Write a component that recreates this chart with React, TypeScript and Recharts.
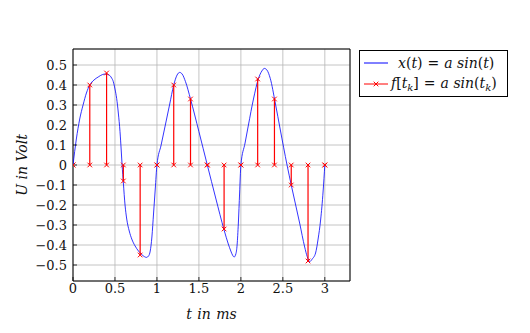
import React from 'react';
import {
  ComposedChart,
  Line,
  Scatter,
  XAxis,
  YAxis,
  CartesianGrid,
  ErrorBar,
  ReferenceArea,
  Label,
} from 'recharts';

// Sample instants t_k and sampled values f[t_k]
const sampleT = [0, 0.2, 0.4, 0.6, 0.8, 1.0, 1.2, 1.4, 1.6, 1.8, 2.0, 2.2, 2.4, 2.6, 2.8, 3.0];
const sampleV = [0, 0.4, 0.46, -0.08, -0.45, 0, 0.4, 0.33, 0, -0.32, 0, 0.43, 0.33, -0.1, -0.48, 0];

// Continuous signal x(t)
const curveT = [
  0, 0.04, 0.08, 0.12, 0.16, 0.2, 0.25, 0.3, 0.35, 0.39, 0.43, 0.46, 0.48, 0.5, 0.52, 0.54, 0.56, 0.575, 0.585,
  0.6, 0.62, 0.64, 0.67, 0.7, 0.74, 0.78, 0.82, 0.85, 0.875, 0.9, 0.92, 0.94, 0.96, 0.98, 1.0,
  1.05, 1.1, 1.15, 1.2, 1.24, 1.27, 1.3, 1.34, 1.4, 1.5, 1.6, 1.7, 1.8, 1.85, 1.88, 1.9, 1.92, 1.94,
  1.955, 1.97, 1.985, 2.0,
  2.05, 2.09, 2.15, 2.21, 2.25, 2.28, 2.31, 2.35, 2.41, 2.47, 2.55, 2.6, 2.7, 2.76, 2.79, 2.82, 2.85,
  2.89, 2.92, 2.95, 2.98, 3.0,
];
const curveV = [
  0, 0.13, 0.23, 0.3, 0.36, 0.4, 0.425, 0.44, 0.452, 0.455, 0.45, 0.435, 0.417, 0.38, 0.333, 0.26, 0.167, 0.07, 0,
  -0.09, -0.2, -0.27, -0.33, -0.37, -0.405, -0.43, -0.448, -0.458, -0.462, -0.455, -0.43, -0.36, -0.24, -0.12, 0,
  0.1, 0.2, 0.3, 0.4, 0.45, 0.463, 0.455, 0.417, 0.33, 0.167, 0, -0.165, -0.325, -0.395, -0.43, -0.45, -0.46, -0.445,
  -0.4, -0.29, -0.14, 0,
  0.11, 0.2, 0.33, 0.433, 0.47, 0.483, 0.475, 0.433, 0.31, 0.175, 0, -0.1, -0.29, -0.41, -0.458, -0.483, -0.47,
  -0.44, -0.37, -0.275, -0.13, 0,
];

const xTicks = [0, 0.5, 1, 1.5, 2, 2.5, 3];
const yTicks = [-0.5, -0.4, -0.3, -0.2, -0.1, 0, 0.1, 0.2, 0.3, 0.4, 0.5];
const xDomain: [number, number] = [0, 3.3];
const yDomain: [number, number] = [-0.58, 0.58];

const curveData = curveT.map((t, i) => ({ t, v: curveV[i] }));
const stemData = sampleT.map((t, i) => {
  const v = sampleV[i];
  return { t, v, err: v >= 0 ? [v, 0] : [0, -v] };
});
const zeroData = sampleT.map((t) => ({ t, z: 0 }));

const FONT = 'DejaVu Serif';

const fmt = (v: number) => {
  const s = String(Math.round(v * 10) / 10);
  return s.startsWith('-') ? '\u2212' + s.slice(1) : s;
};

const Cross = (props: any) => {
  const { cx, cy } = props;
  if (cx == null || cy == null) return null;
  const s = 2.3;
  return (
    <path
      d={`M${cx - s},${cy - s}L${cx + s},${cy + s}M${cx - s},${cy + s}L${cx + s},${cy - s}`}
      stroke="#ff0000"
      strokeWidth={1}
      fill="none"
    />
  );
};

const NoTick = () => null;
const tickStroke = { stroke: '#000', strokeWidth: 0.8 };

const it: React.CSSProperties = { fontStyle: 'italic' };
const eq: React.CSSProperties = { margin: '0 5px' };
const sub: React.CSSProperties = { fontStyle: 'italic', fontSize: 10, verticalAlign: '-3px', letterSpacing: 0 };

export default function App() {
  return (
    <div style={{ position: 'absolute', left: 0, top: 0, width: 530, height: 333, background: '#fff' }}>
      <ComposedChart
        width={530}
        height={333}
        margin={{ top: 49, right: 180, bottom: 12, left: 13 }}
        style={{ fontFamily: FONT }}
      >
        <CartesianGrid stroke="#b5b5b5" strokeWidth={0.8} />
        <XAxis
          dataKey="t"
          type="number"
          domain={xDomain}
          ticks={xTicks}
          interval={0}
          tickFormatter={fmt}
          allowDataOverflow
          axisLine={false}
          tickLine={tickStroke}
          tickSize={-4}
          tickMargin={7}
          height={40}
          tick={{ fill: '#111', fontSize: 13, fontFamily: FONT }}
        >
          <Label
            value="t in ms"
            position="insideBottom"
            offset={2}
            style={{ fontStyle: 'italic', fontSize: 14, fill: '#111', fontFamily: FONT, wordSpacing: '1px' }}
          />
        </XAxis>
        <XAxis
          xAxisId="top"
          orientation="top"
          dataKey="t"
          type="number"
          domain={xDomain}
          ticks={xTicks}
          interval={0}
          allowDataOverflow
          axisLine={false}
          tickLine={tickStroke}
          tickSize={-4}
          height={0}
          tick={NoTick}
        />
        <YAxis
          type="number"
          domain={yDomain}
          ticks={yTicks}
          interval={0}
          tickFormatter={fmt}
          allowDataOverflow
          axisLine={false}
          tickLine={tickStroke}
          tickSize={-4}
          tickMargin={10}
          width={60}
          tick={{ fill: '#111', fontSize: 13, fontFamily: FONT }}
        >
          <Label
            value="U in Volt"
            angle={-90}
            position="insideLeft"
            offset={9}
            style={{ textAnchor: 'middle', fontStyle: 'italic', fontSize: 14, fill: '#111', fontFamily: FONT }}
          />
        </YAxis>
        <YAxis
          yAxisId="right"
          orientation="right"
          type="number"
          domain={yDomain}
          ticks={yTicks}
          interval={0}
          allowDataOverflow
          axisLine={false}
          tickLine={tickStroke}
          tickSize={-4}
          width={0}
          tick={NoTick}
        />
        <Line
          data={curveData}
          dataKey="v"
          type="monotone"
          stroke="#0000ff"
          strokeWidth={0.8}
          dot={false}
          isAnimationActive={false}
        />
        <Scatter data={stemData} dataKey="v" shape={<Cross />} isAnimationActive={false}>
          <ErrorBar dataKey="err" direction="y" width={0} stroke="#ff0000" strokeWidth={1.2} />
        </Scatter>
        <Scatter data={zeroData} dataKey="z" shape={<Cross />} isAnimationActive={false} />
        <ReferenceArea
          x1={0}
          x2={3.3}
          y1={-0.58}
          y2={0.58}
          fill="none"
          stroke="#000"
          strokeWidth={1}
          ifOverflow="visible"
        />
      </ComposedChart>
      <div
        style={{
          position: 'absolute',
          left: 359,
          top: 50,
          width: 149,
          height: 47,
          border: '1px solid #000',
          boxSizing: 'border-box',
          fontFamily: FONT,
          fontSize: 14,
          color: '#111',
          background: '#fff',
          whiteSpace: 'nowrap',
        }}
      >
        <div style={{ position: 'absolute', left: 4, top: 3, height: 18, display: 'flex', alignItems: 'center' }}>
          <svg width={24} height={10} style={{ marginRight: 10 }}>
            <line x1={0} y1={5} x2={24} y2={5} stroke="#0000ff" strokeWidth={1} />
          </svg>
          <span>
            <span style={it}>x</span>(<span style={it}>t</span>)<span style={eq}>=</span>
            <span style={it}>a</span> <span style={it}>sin</span>(<span style={it}>t</span>)
          </span>
        </div>
        <div style={{ position: 'absolute', left: 4, top: 24, height: 18, display: 'flex', alignItems: 'center' }}>
          <svg width={24} height={10} style={{ marginRight: 3 }}>
            <line x1={0} y1={5} x2={24} y2={5} stroke="#ff0000" strokeWidth={1} />
            <path d="M9.7,2.7L14.3,7.3M9.7,7.3L14.3,2.7" stroke="#ff0000" strokeWidth={1} fill="none" />
          </svg>
          <span>
            <span style={it}>f</span>[<span style={it}>t</span>
            <sub style={sub}>k</sub>]<span style={eq}>=</span>
            <span style={it}>a</span> <span style={it}>sin</span>(<span style={it}>t</span>
            <sub style={sub}>k</sub>)
          </span>
        </div>
      </div>
    </div>
  );
}
